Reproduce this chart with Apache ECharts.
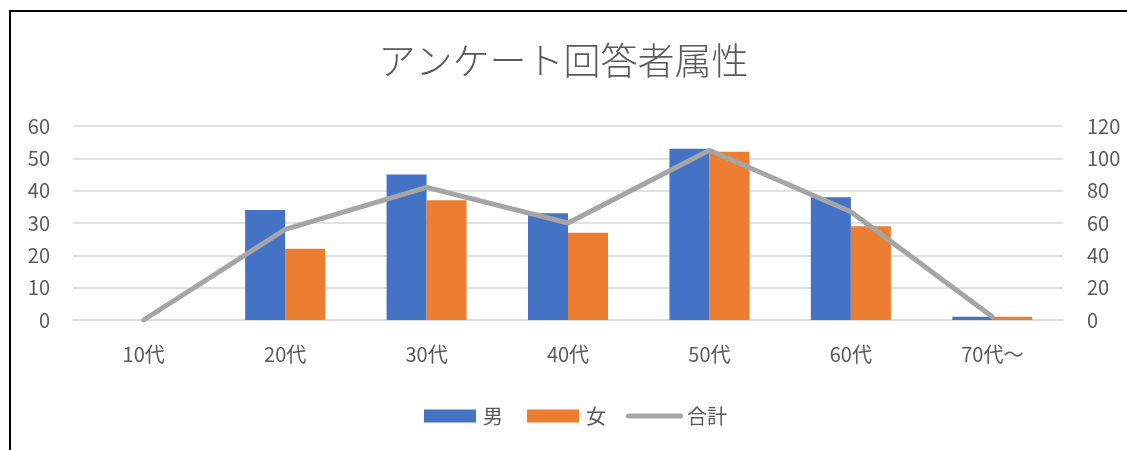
<!DOCTYPE html>
<html><head><meta charset="utf-8">
<script src="https://cdn.jsdelivr.net/npm/echarts@6/dist/echarts.min.js"></script>
<style>html,body{margin:0;padding:0;background:#fff}#c{width:1127px;height:450px}</style>
</head><body><div id="c"></div>
<script>
const categories = ['10代','20代','30代','40代','50代','60代','70代〜'];
const male = [0, 34, 45, 33, 53, 38, 1];
const female = [0, 22, 37, 27, 52, 29, 1];
const total = [0, 56, 82, 60, 105, 67, 2];
const leftTicks = {min:0, max:60, interval:10};
const rightTicks = {min:0, max:120, interval:20};
const font = '"Noto Sans CJK JP", "Noto Sans", sans-serif';
const labelColor = '#595959';
const chart = echarts.init(document.getElementById('c'));
chart.setOption({
  animation:false,
  textStyle:{fontFamily:font},
  title:{text:'アンケート回答者属性', left:'center', top:37, textStyle:{fontFamily:font, fontSize:37, fontWeight:300, color:labelColor}},
  graphic:[{type:'rect', shape:{x:10, y:11, width:1140, height:460}, style:{fill:'none', stroke:'#000', lineWidth:2}, z:100}],
  grid:{left:73, right:64, top:126, bottom:130, containLabel:false},
  legend:[
    {left:419, top:401, itemWidth:52, itemHeight:13, itemGap:24, icon:'rect',
     textStyle:{fontFamily:font, fontSize:20, color:labelColor, padding:[0,0,0,2]},
     data:['男','女']},
    {left:621, top:401, itemWidth:57, itemHeight:5, itemGap:24,
     icon:'path://M2.5,0 L54.5,0 A2.5,2.5 0 0 1 54.5,5 L2.5,5 A2.5,2.5 0 0 1 2.5,0 Z',
     textStyle:{fontFamily:font, fontSize:20, color:labelColor, padding:[0,0,0,-1]},
     data:['合計']}
  ],
  xAxis:{type:'category', data:categories, axisTick:{show:false},
    axisLine:{lineStyle:{color:'#d9d9d9', width:1.5}},
    axisLabel:{color:labelColor, fontSize:20, margin:24, fontFamily:font}},
  yAxis:[
    {type:'value', min:leftTicks.min, max:leftTicks.max, interval:leftTicks.interval,
     axisLine:{show:false}, axisTick:{show:false},
     axisLabel:{color:labelColor, fontSize:20, margin:23, fontFamily:font},
     splitLine:{lineStyle:{color:'#d9d9d9', width:1.5}}},
    {type:'value', min:rightTicks.min, max:rightTicks.max, interval:rightTicks.interval,
     axisLine:{show:false}, axisTick:{show:false},
     axisLabel:{color:labelColor, fontSize:20, margin:24, fontFamily:font},
     splitLine:{show:false}}
  ],
  series:[
    {name:'男', type:'bar', data:male, barWidth:40, barGap:'0%', itemStyle:{color:'#4472c4'}},
    {name:'女', type:'bar', data:female, barWidth:40, barGap:'0%', itemStyle:{color:'#ed7d31'}},
    {name:'合計', type:'line', yAxisIndex:1, data:total, symbol:'none', itemStyle:{color:'#a5a5a5'},
     lineStyle:{color:'#a5a5a5', width:5, cap:'round', join:'round'}, z:5}
  ]
});
</script></body></html>
